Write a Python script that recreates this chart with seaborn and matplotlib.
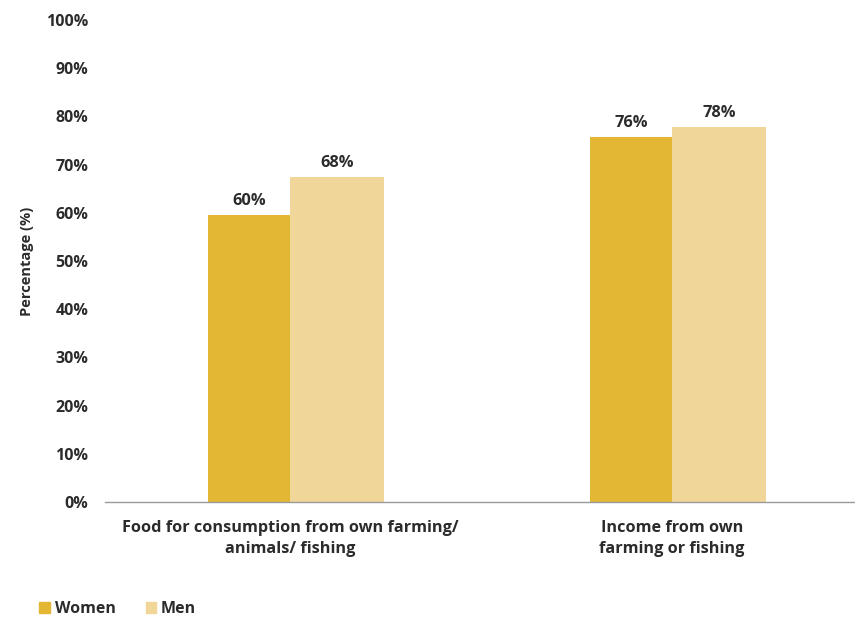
import matplotlib
matplotlib.use("Agg")
import matplotlib.pyplot as plt
import seaborn as sns
import pandas as pd
from matplotlib.patches import Patch

categories = ["Food for consumption from own farming/\nanimals/ fishing",
              "Income from own\nfarming or fishing"]
groups = ["Women", "Men"]
women = [59.6, 75.7]
men = [67.4, 77.8]
women_labels = ["60%", "76%"]
men_labels = ["68%", "78%"]
yticks = [0, 10, 20, 30, 40, 50, 60, 70, 80, 90, 100]

colors = {"Women": "#E3B734", "Men": "#F0D699"}

df = pd.DataFrame({
    "cat": categories * 2,
    "grp": ["Women"] * 2 + ["Men"] * 2,
    "val": women + men,
})

sns.set_theme(style="white")
plt.rcParams['font.family'] = ['Open Sans', 'DejaVu Sans']
txt = "#2b2b2b"

fig = plt.figure(figsize=(8.55, 6.17), dpi=100)
ax = fig.add_axes([105 / 855, 1 - 502 / 617, 750 / 855, 482 / 617])
sns.barplot(data=df, x="cat", y="val", hue="grp", hue_order=groups,
            palette=colors, ax=ax, width=0.46, saturation=1, legend=False,
            linewidth=0)

wW, wM = 0.215, 0.245
cont_w, cont_m = ax.containers[0], ax.containers[1]
for i, (pw, pm) in enumerate(zip(cont_w, cont_m)):
    pw.set_width(wW); pw.set_x(i - wW)
    pm.set_width(wM); pm.set_x(i)
    ax.text(i - wW / 2, women[i] + 1.2, women_labels[i], ha="center", va="bottom",
            fontsize=11.8, fontweight="bold", color=txt)
    ax.text(i + wM / 2, men[i] + 1.2, men_labels[i], ha="center", va="bottom",
            fontsize=11.8, fontweight="bold", color=txt)

ax.set_ylim(0, 100)
ax.set_xlim(-0.484, 1.479)
ax.set_yticks(yticks)
ax.set_yticklabels([f"{t}%" for t in yticks])
ax.tick_params(axis="y", length=0, pad=12, labelsize=11.5, labelcolor=txt)
ax.tick_params(axis="x", length=0, pad=13, labelsize=11.7, labelcolor=txt)
for lab in ax.get_yticklabels():
    lab.set_fontweight("bold")
for lab in ax.get_xticklabels():
    lab.set_fontweight("bold")
    lab.set_linespacing(1.45)
ax.set_xlabel("")
ax.set_ylabel("Percentage (%)", fontsize=10.5, fontweight="bold", color=txt, labelpad=9)
for s in ["top", "right", "left"]:
    ax.spines[s].set_visible(False)
ax.spines["bottom"].set_color("#9a9a9a")
ax.spines["bottom"].set_linewidth(1.0)

handles = [Patch(color=colors[g]) for g in groups]
fig.legend(handles, groups, loc="center left", bbox_to_anchor=(25 / 855, 1 - 609 / 617),
           ncol=2, frameon=False, handlelength=0.65, handleheight=0.65, handletextpad=0.3,
           columnspacing=1.9, prop={"weight": "bold", "size": 11.5}, labelcolor=txt)

fig.savefig("out.png", dpi=100)
